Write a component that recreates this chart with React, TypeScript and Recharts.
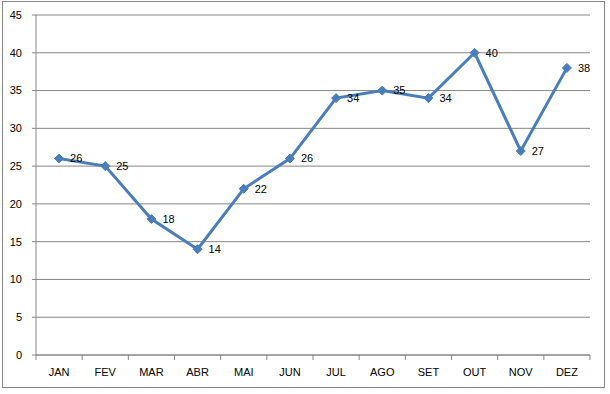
import React from "react";
import { LineChart, Line, XAxis, YAxis, CartesianGrid, LabelList } from "recharts";

const months = ["JAN", "FEV", "MAR", "ABR", "MAI", "JUN", "JUL", "AGO", "SET", "OUT", "NOV", "DEZ"];
const values = [26, 25, 18, 14, 22, 26, 34, 35, 34, 40, 27, 38];
const yTicks = [0, 5, 10, 15, 20, 25, 30, 35, 40, 45];

const data = months.map((m, i) => ({ month: m, value: values[i] }));

const W = 610;
const H = 394;
const M = { top: 15, right: 20, bottom: 0, left: 6 };
const X_AXIS_H = 39;
const Y_AXIS_W = 30;
const PLOT_W = W - M.left - M.right - Y_AXIS_W;
const HALF_BAND = PLOT_W / months.length / 2;

const BLUE = "#4A7EBB";
const GRID = "#868686";
const FONT = "'Liberation Sans', Arial, sans-serif";

const Diamond = (props: any) => {
  const { cx, cy } = props;
  if (cx == null || cy == null) return null;
  const s = 4.5;
  return (
    <polygon
      points={`${cx},${cy - s} ${cx + s},${cy} ${cx},${cy + s} ${cx - s},${cy}`}
      fill={BLUE}
      stroke={BLUE}
      strokeWidth={1}
    />
  );
};

const XTick = (props: any) => {
  const { x, y, payload, index } = props;
  const top = y;
  return (
    <g>
      <line x1={x - HALF_BAND} x2={x - HALF_BAND} y1={top} y2={top + 5} stroke={GRID} strokeWidth={1} />
      {index === months.length - 1 && (
        <line x1={x + HALF_BAND} x2={x + HALF_BAND} y1={top} y2={top + 5} stroke={GRID} strokeWidth={1} />
      )}
      <text x={x} y={top + 21} textAnchor="middle" fontSize={11} fontFamily={FONT} fill="#000">
        {payload.value}
      </text>
    </g>
  );
};

export default function App() {
  return (
    <div style={{ position: "absolute", left: 0, top: 0, width: W, height: H, background: "#fff" }}>
      <div
        style={{
          position: "absolute",
          left: 2,
          top: 1,
          width: 603,
          height: 387,
          border: `1px solid ${GRID}`,
          boxSizing: "border-box",
        }}
      />
      <div style={{ position: "absolute", left: 0, top: 0 }}>
        <LineChart width={W} height={H} data={data} margin={M}>
          <CartesianGrid vertical={false} stroke={GRID} strokeWidth={1} />
          <XAxis
            dataKey="month"
            axisLine={{ stroke: GRID }}
            tickLine={false}
            tickSize={0}
            tickMargin={0}
            tick={<XTick />}
            interval={0}
            height={X_AXIS_H}
            padding={{ left: HALF_BAND, right: HALF_BAND }}
          />
          <YAxis
            width={Y_AXIS_W}
            domain={[0, 45]}
            ticks={yTicks}
            interval={0}
            axisLine={{ stroke: GRID }}
            tickLine={{ stroke: GRID }}
            tickSize={4}
            tickMargin={10}
            tick={{ fontSize: 11, fontFamily: FONT, fill: "#000" }}
          />
          <Line
            type="linear"
            dataKey="value"
            stroke={BLUE}
            strokeWidth={3}
            dot={<Diamond />}
            activeDot={false}
            isAnimationActive={false}
          >
            <LabelList
              dataKey="value"
              position="right"
              offset={11}
              style={{ fontSize: 11, fontFamily: FONT, fill: "#000" }}
            />
          </Line>
        </LineChart>
      </div>
    </div>
  );
}
